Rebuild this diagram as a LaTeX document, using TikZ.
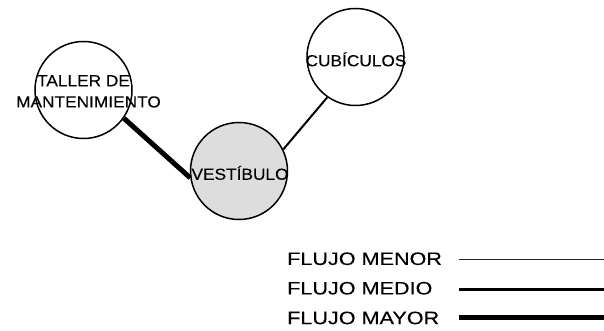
\documentclass[tikz,border=0pt]{standalone}
\usepackage{fontspec}
\newfontfamily\comic[FakeStretch=1.2,FakeBold=0.15]{Liberation Sans}
\newfontfamily\comicn[FakeStretch=1.08,FakeBold=0.15]{Liberation Sans}
\definecolor{vestfill}{RGB}{221,221,221}
\begin{document}
\begin{tikzpicture}[x=1pt,y=-1pt,
  room/.style={circle,draw=black,line width=1.5pt,minimum size=97pt,inner sep=0pt},
  roomtext/.style={font=\comicn\fontsize{16}{21}\selectfont,inner sep=0pt,text height=11.5pt,text depth=0pt,align=center},
  legtext/.style={font=\comic\fontsize{18}{21}\selectfont,inner sep=0pt,text height=12.9pt,text depth=0pt,anchor=west},
  flowlow/.style={draw=black!85,line width=1pt},
  flowmid/.style={draw=black,line width=3pt},
  flowhigh/.style={draw=black,line width=5pt}
]
\useasboundingbox (0,0) rectangle (604,331);
% rooms
\node[room] (t) at (83.5,90) {};
\node[room] (c) at (355.5,57) {};
\node[room,fill=vestfill] (v) at (239,171) {};
% connectors
\draw[flowhigh] (t.-35) -- (v.188);
\draw[line width=2pt] (c.-125) -- (v.26);
% labels
\node[roomtext] (tl1) at (83.5,80.5) {TALLER DE};
\node[roomtext] (tl2) at (88.5,101.7) {MANTENIMIENTO};
\node[roomtext] (cl) at (356,60.5) {CUBÍCULOS};
\node[roomtext] (vl) at (240,174) {VESTÍBULO};
% legend
\node[legtext] (lmenor) at (287,258.5) {FLUJO MENOR};
\node[legtext] (lmedio) at (287,288) {FLUJO MEDIO};
\node[legtext] (lmayor) at (287,317.7) {FLUJO MAYOR};
\coordinate (a1) at (459,259.7);
\coordinate (b1) at (603.5,259.7);
\coordinate (a2) at (459,289);
\coordinate (b2) at (603.5,289);
\coordinate (a3) at (459,317.5);
\coordinate (b3) at (603.5,317.5);
\draw[flowlow] (a1) -- (b1);
\draw[flowmid] (a2) -- (b2);
\draw[flowhigh] (a3) -- (b3);
\end{tikzpicture}
\end{document}
